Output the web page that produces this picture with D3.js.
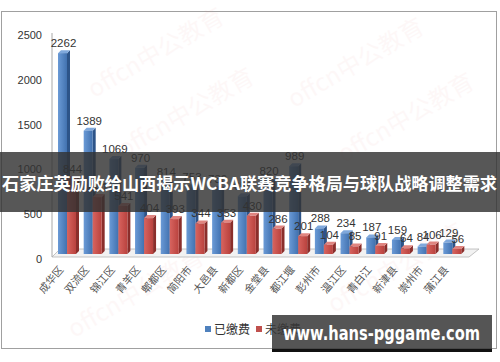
<!DOCTYPE html>
<html>
<head>
<meta charset="utf-8">
<script src="https://cdn.jsdelivr.net/npm/d3@7"></script>
<style>
  body { margin: 0; background: #fff; }
  svg { display: block; }
</style>
</head>
<body>
<div id="chart"></div>
<script>
// data
const districts = ['成华区', '双流区', '锦江区', '青羊区', '郫都区', '简阳市', '大邑县', '新都区',
  '金堂县', '都江堰', '彭州市', '温江区', '青白江', '新津县', '崇州市', '蒲江县'];
const paidValues = [2262, 1389, 1069, 970, 814, 753, 730, 650, 820, 989, 288, 234, 187, 159, 84, 129];
const unpaidValues = [844, 641, 541, 404, 393, 344, 353, 430, 286, 201, 104, 85, 91, 64, 106, 56];
const yTicks = [0, 500, 1000, 1500, 2000, 2500];
const seriesNames = ['已缴费', '未缴费'];
const bannerText = '石家庄英励败给山西揭示WCBA联赛竞争格局与球队战略调整需求';
const siteText = 'www.hans-pggame.com';

// constants
const W = 500, H = 362;
const depth = 3;
const barW = 9;
const base = 254;
const colors = {
  paid: { front: ['#6a9ad6', '#4272b0'], side: '#2d5489', top: '#7fa8dc' },
  unpaid: { front: ['#d8645f', '#b9423e'], side: '#8a2e2b', top: '#e08580' }
};

const svg = d3.select('#chart').append('svg')
  .attr('width', W)
  .attr('height', H);

const defs = svg.append('defs');
Object.keys(colors).forEach(k => {
  const g = defs.append('linearGradient')
    .attr('id', 'grad-' + k)
    .attr('x1', 0).attr('x2', 1).attr('y1', 0).attr('y2', 0);
  g.append('stop').attr('offset', '0%').attr('stop-color', colors[k].front[0]);
  g.append('stop').attr('offset', '100%').attr('stop-color', colors[k].front[1]);
});

// chart frame
svg.append('rect')
  .attr('x', 1.5).attr('y', 11.5)
  .attr('width', 495).attr('height', 337)
  .attr('fill', '#fff')
  .attr('stroke', '#a0a0a0');

// faint background watermarks
const marks = [[160, 60], [360, 70], [190, 120], [410, 125], [140, 300], [400, 275]];
svg.append('g').selectAll('text')
  .data(marks)
  .join('text')
  .attr('transform', d => `translate(${d[0]},${d[1]}) rotate(-30)`)
  .attr('text-anchor', 'middle')
  .attr('font-family', 'Noto Sans CJK SC')
  .attr('font-size', 24)
  .attr('fill', '#e88a8a')
  .attr('opacity', 0.06)
  .text('offcn中公教育');

// scales
const xScale = d3.scaleBand()
  .domain(districts)
  .range([56, 467])
  .paddingInner(0)
  .paddingOuter(0);

const yScale = d3.scaleLinear()
  .domain([0, 2500])
  .range([base, 32]);

const tickScale = d3.scaleLinear()
  .domain([0, 2500])
  .range([259, 35]);

// y axis labels
const yAxis = d3.axisLeft(tickScale)
  .tickValues(yTicks)
  .tickFormat(d3.format('d'))
  .tickSize(0)
  .tickPadding(10);

const $yAxisGroup = svg.append('g')
  .attr('transform', 'translate(52,0)')
  .call(yAxis);
$yAxisGroup.select('.domain').remove();
$yAxisGroup.selectAll('text')
  .attr('font-family', 'Liberation Sans, Arial, sans-serif')
  .attr('font-size', 11)
  .attr('fill', '#333');

// floor and axis line
const x1 = xScale.range()[1];
svg.append('polygon')
  .attr('points', [[52, 257], [x1 + 2, 257], [x1 + 12, 249], [60, 249]].map(p => p.join(',')).join(' '))
  .attr('fill', '#f2f2f2')
  .attr('stroke', '#b5b5b5')
  .attr('stroke-width', 0.8);

svg.append('line')
  .attr('x1', 52).attr('x2', 52)
  .attr('y1', 33).attr('y2', 257)
  .attr('stroke', '#a8a8a8')
  .attr('stroke-width', 1);

// bars
const rows = districts.map((name, i) => ({ name, paid: paidValues[i], unpaid: unpaidValues[i] }));

function bar3d(g, x, v, key) {
  const y = yScale(v);
  const c = colors[key];
  g.append('polygon')
    .attr('points', [[x + barW, y], [x + barW + depth, y - depth], [x + barW + depth, base - depth], [x + barW, base]].join(' '))
    .attr('fill', c.side);
  g.append('polygon')
    .attr('points', [[x, y], [x + depth, y - depth], [x + barW + depth, y - depth], [x + barW, y]].join(' '))
    .attr('fill', c.top);
  g.append('rect')
    .attr('x', x).attr('y', y)
    .attr('width', barW).attr('height', base - y)
    .attr('fill', `url(#grad-${key})`);
}

const $bars = svg.append('g');
rows.forEach(d => {
  const bx = xScale(d.name) + 2;
  const g = $bars.append('g');
  bar3d(g, bx, d.paid, 'paid');
  bar3d(g, bx + barW, d.unpaid, 'unpaid');
});

// value labels
const $labels = svg.append('g')
  .attr('font-family', 'Liberation Sans, Arial, sans-serif')
  .attr('font-size', 11.5)
  .attr('fill', '#333')
  .attr('text-anchor', 'middle');

rows.forEach(d => {
  const bx = xScale(d.name) + 2;
  $labels.append('text')
    .attr('x', bx + barW / 2 + 1)
    .attr('y', yScale(d.paid) - 6)
    .text(d.paid);
  $labels.append('text')
    .attr('x', bx + barW * 1.5 + 1)
    .attr('y', yScale(d.unpaid) - 6)
    .text(d.unpaid);
});

// x labels
svg.append('g')
  .selectAll('text')
  .data(districts)
  .join('text')
  .attr('transform', d => `translate(${xScale(d) + 8},${270}) rotate(-50)`)
  .attr('text-anchor', 'end')
  .attr('font-family', 'Noto Sans CJK SC')
  .attr('font-size', 10.5)
  .attr('fill', '#555')
  .text(d => d);

// legend
const legend = svg.append('g')
  .attr('font-family', 'Noto Sans CJK SC')
  .attr('font-size', 12)
  .attr('fill', '#333');
const legendX = [205, 256];
seriesNames.forEach((name, i) => {
  legend.append('rect')
    .attr('x', legendX[i]).attr('y', 326)
    .attr('width', 6).attr('height', 6)
    .attr('fill', i === 0 ? '#4f81bd' : '#c0504d');
  legend.append('text')
    .attr('x', legendX[i] + 9).attr('y', 333.5)
    .text(name);
});

// banner overlay
svg.append('rect')
  .attr('x', 0).attr('y', 152)
  .attr('width', W).attr('height', 60)
  .attr('fill', 'rgba(50,50,50,0.82)');

svg.append('text')
  .attr('x', 2).attr('y', 190)
  .attr('font-family', 'Noto Sans CJK SC')
  .attr('font-weight', 'bold')
  .attr('font-size', 17.5)
  .attr('fill', '#fff')
  .attr('textLength', 495)
  .attr('lengthAdjust', 'spacingAndGlyphs')
  .text(bannerText);

// site watermark
svg.append('rect')
  .attr('x', 272).attr('y', 315)
  .attr('width', 220).attr('height', 34)
  .attr('fill', 'rgba(55,55,55,0.85)');
svg.append('rect')
  .attr('x', 272).attr('y', 349)
  .attr('width', 220).attr('height', 3)
  .attr('fill', '#111');
svg.append('text')
  .attr('x', 283).attr('y', 340)
  .attr('font-family', 'DejaVu Sans, sans-serif')
  .attr('font-weight', 'bold')
  .attr('font-size', 20)
  .attr('fill', '#fff')
  .attr('textLength', 197)
  .attr('lengthAdjust', 'spacingAndGlyphs')
  .text(siteText);
</script>
</body>
</html>
